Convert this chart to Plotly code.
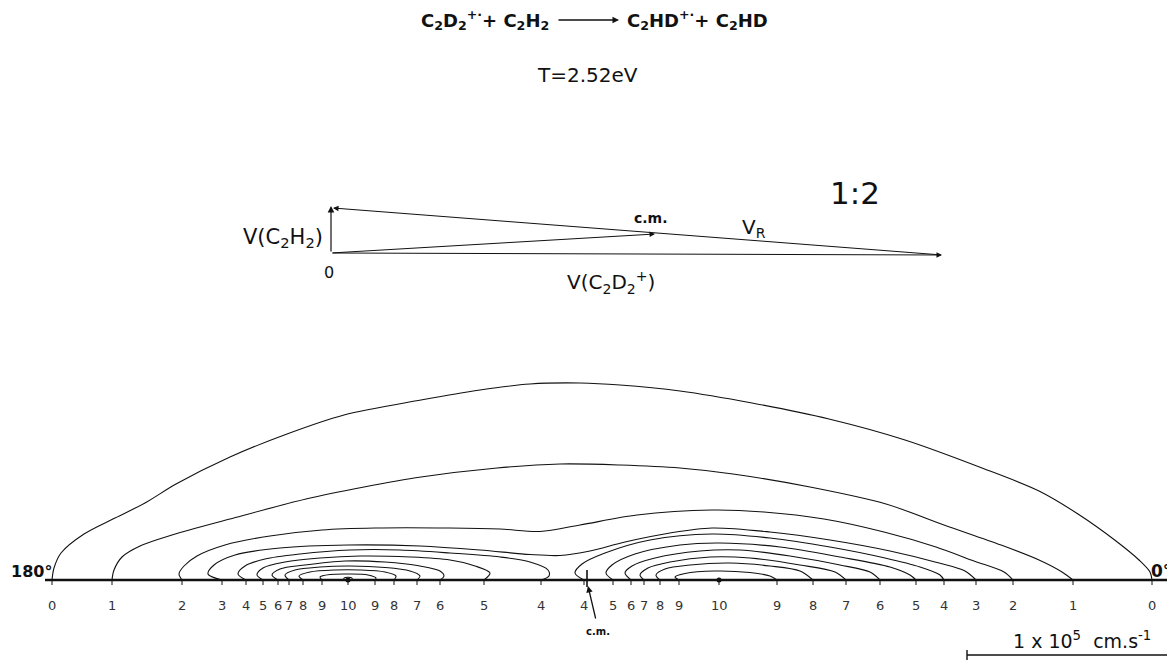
import plotly.graph_objects as go

# ---------------- data: iso-intensity contours (x along the 0-180 deg axis, height above it)
# units: 1 unit ~ 1/208 of 1e5 cm/s ; c.m. at x = 587
contour_0 = [(52,0),(54,12),(61,27),(84,46),(115,62),(145,77),(176,96),(230,123),(287,146),(344,165),
             (421,180),(480,190),(530,196),(580,197),(620,195),(680,189),(752,177),(829,161),(905,140),
             (982,112),(1039,89),(1078,66),(1116,39),(1139,20),(1150,8),(1152,0)]
contour_1 = [(112,0),(114,10),(122,23),(140,34),(172,45),(230,61),(306,81),(364,93),(421,103),(497,112),
             (560,116),(620,115),(680,112),(733,106),(810,93),(886,76),(944,55),(1001,35),(1039,20),
             (1062,8),(1073,0)]
contour_2 = [(182,0),(179,6),(184,14),(197,24),(225,35),(270,44),(322,50),(375,52),(449,52),(500,51),
             (540,48.5),(580,55),(637,65),(712,70),(764,68),(824,61),(884,48),(936,33),(974,19),(1004,8),(1013,0)]
contour_3 = [(222,0),(208,6),(214,15),(235,25),(280,32),(348,35),(420,34),(480,30),(530,25.5),(560,24.5),
             (590,29),(625,38),(670,47),(712,52),(770,48),(830,40),(890,29),(935,18),(965,9),(976,0)]
contour_4_left = [(246,0),(238,6),(245,14),(265,21),(300,26),(350,30),(400,30),(450,27),(500,23),
                  (530,18),(548,10),(549,4),(541,0)]
contour_4_right = [(584,0),(575,7),(582,16),(605,27),(650,40),(712,46),(770,42),(830,33),(885,22),
                   (920,13),(940,5),(944,0)]
contour_5_left = [(263,0),(257,5),(263,12),(285,18),(320,22),(360,24),(410,23),(450,20),(475,14),
                  (490,7),(484,0)]
contour_5_right = [(613,0),(606,7),(612,15),(635,26),(680,35),(720,37),(780,33),(840,23),(890,13),
                   (910,5),(916,0)]
contour_6_left = [(278,0),(272,5),(280,11),(305,15),(345,19),(385,18),(420,14),(440,9),(444,4),(440,0)]
contour_6_right = [(631,0),(625,7),(632,14),(655,22),(700,29),(740,30),(790,24),(840,15),(870,8),(880,0)]
contour_7_left = [(289,0),(285,5),(295,10),(320,13),(350,14),(385,12.5),(410,9),(420,4),(417,0)]
contour_7_right = [(644,0),(640,5),(648,12),(670,18),(710,23),(750,22),(800,15),(835,8),(846,0)]
contour_8_left = [(303,0),(299,4),(310,8),(335,10),(360,10),(385,8),(396,4),(394,0)]
contour_8_right = [(660,0),(656,5),(665,11),(690,15),(730,17),(770,14),(800,9),(813,0)]
contour_9_left = [(322,0),(320,3),(330,5.5),(350,6),(368,5),(376,2),(375,0)]
contour_9_right = [(679,0),(675,3),(685,6.5),(715,9),(750,7.5),(770,4),(777,0)]
contour_10_left = [(344,0),(344,2),(348,2.8),(352,2),(352,0)]

peak_x = [348, 719]
cm_x = 587

axis_label_x = [52,112,182,222,246,263,278,289,303,322,348,375,394,417,440,484,541,
                584,613,631,644,660,679,719,777,813,846,880,916,944,976,1013,1073,1152]
axis_label_text = ["0","1","2","3","4","5","6","7","8","9","10","9","8","7","6","5","4",
                   "4","5","6","7","8","9","10","9","8","7","6","5","4","3","2","1","0"]

contours = [contour_0, contour_1, contour_2, contour_3, contour_4_left, contour_4_right,
            contour_5_left, contour_5_right, contour_6_left, contour_6_right, contour_7_left,
            contour_7_right, contour_8_left, contour_8_right, contour_9_left, contour_9_right,
            contour_10_left]

FONT = "DejaVu Sans"
INK = "#111111"

fig = go.Figure()
for c in contours:
    fig.add_trace(go.Scatter(x=[p[0] for p in c], y=[p[1] for p in c], mode="lines",
                             line=dict(color=INK, width=1.1, shape="spline", smoothing=0.9),
                             hoverinfo="skip", showlegend=False))

# small ticks where contours cross the axis
tx, ty = [], []
for x in axis_label_x:
    tx += [x, x, None]
    ty += [0, -5, None]
fig.add_trace(go.Scatter(x=tx, y=ty, mode="lines", line=dict(color=INK, width=1),
                         hoverinfo="skip", showlegend=False))

# axis line
fig.add_trace(go.Scatter(x=[45, 1180], y=[0, 0], mode="lines", line=dict(color=INK, width=2.6),
                         hoverinfo="skip", showlegend=False))
# peaks
fig.add_trace(go.Scatter(x=peak_x, y=[0, 0], mode="markers", marker=dict(color=INK, size=5),
                         hoverinfo="skip", showlegend=False))
# c.m. cross
fig.add_trace(go.Scatter(x=[cm_x, cm_x, None, cm_x - 5, cm_x + 5], y=[10, -7, None, 0, 0], mode="lines",
                         line=dict(color=INK, width=1.6), hoverinfo="skip", showlegend=False))

ann = []
def txt(x, y, s, size, bold=False, xanchor="center", color=INK):
    ann.append(dict(x=x, y=y, xref="x", yref="y", text=("<b>%s</b>" % s) if bold else s,
                    showarrow=False, xanchor=xanchor, yanchor="middle",
                    font=dict(family=FONT, size=size, color=color)))

def arrow(x0, y0, x1, y1, width=1.0, head=2, size=1.0):
    ann.append(dict(x=x1, y=y1, ax=x0, ay=y0, xref="x", yref="y", axref="x", ayref="y",
                    text="", showarrow=True, arrowhead=head, arrowsize=size, arrowwidth=width,
                    arrowcolor=INK))

# axis numbers
for x, s in zip(axis_label_x, axis_label_text):
    txt(x, -25, s, 13, False, "center", "#333333")

# title
txt(551, 560, "C<sub>2</sub>D<sub>2</sub><sup>+·</sup>+ C<sub>2</sub>H<sub>2</sub>", 18, True, "right")
arrow(557, 560, 619, 560, 1.3, 2, 1.0)
txt(625, 560, "C<sub>2</sub>HD<sup>+·</sup>+ C<sub>2</sub>HD", 18, True, "left")
txt(587, 505, "T=2.52eV", 20)

# Newton diagram
O = (331, 327)
arrow(O[0], O[1], 331, 374, 1.2, 2, 1.1)          # V(C2H2)
arrow(O[0], O[1], 942, 325, 1.0, 2, 1.1)          # V(C2D2+)
arrow(942, 325, 333, 372, 1.0, 2, 1.1)            # V_R
arrow(O[0], O[1], 655, 346, 1.0, 2, 1.1)          # c.m.
txt(855, 387, "1:2", 31)
txt(651, 362, "c.m.", 14, True)
txt(754, 352, "V<sub>R</sub>", 20)
txt(325, 342, "V(C<sub>2</sub>H<sub>2</sub>)", 21, False, "right")
txt(329, 308, "0", 16)
txt(611, 298, "V(C<sub>2</sub>D<sub>2</sub><sup>+</sup>)", 20)

# angle labels
txt(9, 9, "180°", 16, True, "left")
txt(1173, 9, "0°", 17, True, "right")

# c.m. pointer
arrow(596, -40, 588, -6, 1.3, 2, 1.0)
txt(598, -51, "c.m.", 10, True)

# scale bar
fig.add_trace(go.Scatter(x=[967, 1180, None, 967, 967], y=[-75, -75, None, -70, -80], mode="lines",
                         line=dict(color=INK, width=1.4), hoverinfo="skip", showlegend=False))
txt(1082, -60, "1 x 10<sup>5</sup>  cm.s<sup>-1</sup>", 19)

# page body has an 8 px margin: shift the ranges so marks land where the reference has them
fig.update_layout(width=1175, height=665, margin=dict(l=0, r=0, t=0, b=0),
                  paper_bgcolor="white", plot_bgcolor="white", annotations=ann,
                  xaxis=dict(range=[8, 1183], visible=False, fixedrange=True),
                  yaxis=dict(range=[-93, 572], visible=False, fixedrange=True),
                  showlegend=False)
fig.write_html("out.html")
